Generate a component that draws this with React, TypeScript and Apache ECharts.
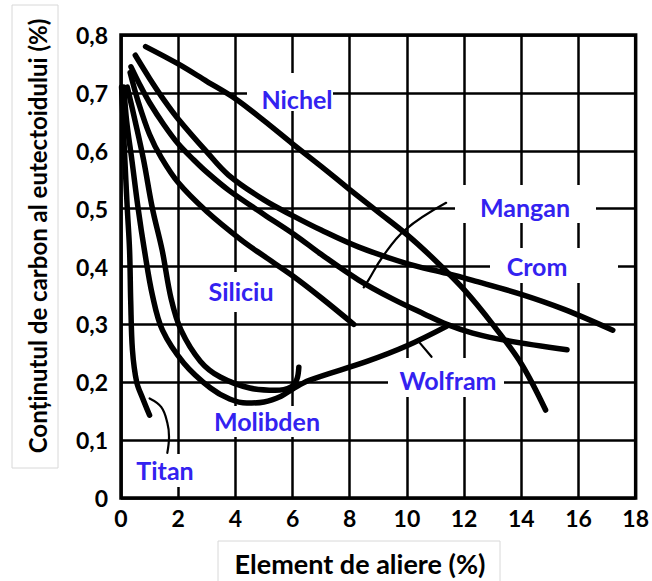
import React, { useEffect, useRef } from "react";
import * as echarts from "echarts";

const xTicks = [0, 2, 4, 6, 8, 10, 12, 14, 16, 18];
const yTicks = [0, 0.1, 0.2, 0.3, 0.4, 0.5, 0.6, 0.7, 0.8];

const nichel = [[0.86, 0.78], [2, 0.75], [3, 0.72], [4, 0.69], [5, 0.652], [6, 0.612], [7, 0.573], [8, 0.533], [9, 0.494], [10, 0.455], [11, 0.41], [12, 0.36], [13, 0.3], [14, 0.232], [14.85, 0.152]];
const crom = [[0.5, 0.765], [1, 0.725], [1.5, 0.688], [2, 0.655], [3, 0.598], [3.76, 0.558], [5, 0.515], [6, 0.488], [7, 0.463], [8.3, 0.434], [10, 0.405], [11.4, 0.388], [12.3, 0.376], [14, 0.352], [15.5, 0.326], [17.2, 0.29]];
const mangan = [[0.35, 0.745], [0.7, 0.71], [1, 0.683], [1.5, 0.645], [2, 0.612], [2.55, 0.584], [3, 0.563], [3.76, 0.532], [5, 0.49], [6.07, 0.455], [7, 0.421], [8.3, 0.377], [9.5, 0.344], [10.6, 0.318], [11.4, 0.3], [12.3, 0.285], [13.5, 0.272], [15.6, 0.256]];
const siliciu = [[0.32, 0.735], [0.6, 0.685], [1, 0.628], [1.41, 0.588], [2, 0.545], [3, 0.495], [4.2, 0.446], [5, 0.418], [6, 0.384], [7, 0.346], [8.14, 0.3]];
const wolfram = [[0.1, 0.71], [0.2, 0.65], [0.38, 0.584], [0.6, 0.5], [0.82, 0.428], [1.1, 0.35], [1.45, 0.29], [2.2, 0.233], [3.13, 0.19], [3.8, 0.171], [4.4, 0.164], [5.0, 0.166], [5.6, 0.176], [6.0, 0.188], [6.56, 0.203], [8.6, 0.236], [10, 0.263], [11.4, 0.297]];
const molibden = [[0.22, 0.71], [0.5, 0.65], [0.79, 0.584], [1.1, 0.5], [1.44, 0.428], [1.75, 0.345], [2.1, 0.29], [2.78, 0.236], [3.47, 0.209], [4.5, 0.19], [5.4, 0.186], [5.95, 0.192], [6.15, 0.205], [6.22, 0.226]];
const titan = [[0.02, 0.71], [0.12, 0.6], [0.22, 0.5], [0.3, 0.428], [0.34, 0.34], [0.4, 0.256], [0.55, 0.2], [0.76, 0.172], [1.0, 0.143]];

const leaderMangan = [[11.37, 0.51], [9.93, 0.463], [9.14, 0.416], [8.66, 0.377], [8.49, 0.364]];
const leaderWolfram = [[10.45, 0.268], [10.86, 0.244]];
const leaderTitan = [[1.0, 0.172], [1.41, 0.157], [1.62, 0.13], [1.68, 0.106], [1.62, 0.078]];

const FONT = "Lato, 'Open Sans', sans-serif";
const BLUE = "#3322f0";

function curve(name: string, data: number[][], width = 5.5, smooth = 0.35) {
  return {
    type: "line",
    name,
    data,
    smooth,
    symbol: "none",
    silent: true,
    z: 3,
    lineStyle: { color: "#000", width, cap: "round", join: "round" },
  };
}

function label(text: string, cx: number, cy: number, box: number[]) {
  return [
    {
      type: "rect",
      z: 1,
      silent: true,
      shape: { x: box[0], y: box[1], width: box[2] - box[0], height: box[3] - box[1] },
      style: { fill: "#fff" },
    },
    {
      type: "text",
      z: 10,
      silent: true,
      x: cx,
      y: cy,
      style: {
        text,
        fill: BLUE,
        font: `bold 25px ${FONT}`,
        textAlign: "center",
        textVerticalAlign: "middle",
      },
    },
  ];
}

export default function App() {
  const ref = useRef<HTMLDivElement>(null);
  useEffect(() => {
    const chart = echarts.init(ref.current!, null, { renderer: "svg" });
    chart.setOption({
      animation: false,
      backgroundColor: "#fff",
      grid: {
        left: 121,
        top: 35,
        width: 522,
        height: 463,
        show: true,
        borderColor: "#000",
        borderWidth: 3.5,
        backgroundColor: "transparent",
      },
      xAxis: {
        type: "value",
        min: 0,
        max: 18,
        interval: 2,
        axisLine: { show: false },
        axisTick: { show: false },
        splitLine: { show: true, lineStyle: { color: "#000", width: 2.5 } },
        axisLabel: {
          color: "#000",
          fontWeight: "bold",
          fontSize: 23,
          fontFamily: FONT,
          margin: 8,
          formatter: (v: number) => (xTicks.includes(v) ? String(v) : ""),
        },
      },
      yAxis: {
        type: "value",
        min: 0,
        max: 0.8,
        interval: 0.1,
        axisLine: { show: false },
        axisTick: { show: false },
        splitLine: { show: true, lineStyle: { color: "#000", width: 2.5 } },
        axisLabel: {
          color: "#000",
          fontWeight: "bold",
          fontSize: 23,
          fontFamily: FONT,
          margin: 13,
          formatter: (v: number) => {
            const t = yTicks.find((k) => Math.abs(k - v) < 1e-6);
            if (t === undefined) return "";
            return t === 0 ? "0" : t.toFixed(1).replace(".", ",");
          },
        },
      },
      series: [
        curve("Nichel", nichel),
        curve("Crom", crom),
        curve("Mangan", mangan),
        curve("Siliciu", siliciu),
        curve("Wolfram", wolfram),
        curve("Molibden", molibden),
        curve("Titan", titan),
        curve("leader Mangan", leaderMangan, 2.2, 0.4),
        curve("leader Wolfram", leaderWolfram, 2.2, 0),
        curve("leader Titan", leaderTitan, 2.2, 0.4),
      ],
      graphic: [
        {
          type: "rect",
          silent: true,
          z: 0,
          shape: { x: 12, y: 5, width: 46, height: 463 },
          style: { fill: "#fff", stroke: "#d8d8d8", lineWidth: 1 },
        },
        {
          type: "text",
          silent: true,
          z: 10,
          x: 37,
          y: 236,
          rotation: Math.PI / 2,
          style: {
            text: "Conținutul de carbon al eutectoidului (%)",
            fill: "#000",
            font: `bold 24px ${FONT}`,
            textAlign: "center",
            textVerticalAlign: "middle",
          },
        },
        {
          type: "rect",
          silent: true,
          z: 0,
          shape: { x: 218, y: 541, width: 282, height: 45 },
          style: { fill: "#fff", stroke: "#d8d8d8", lineWidth: 1 },
        },
        {
          type: "text",
          silent: true,
          z: 10,
          x: 360,
          y: 563,
          style: {
            text: "Element de aliere (%)",
            fill: "#000",
            font: `bold 27px ${FONT}`,
            textAlign: "center",
            textVerticalAlign: "middle",
          },
        },
        ...label("Nichel", 297, 99, [247, 73, 333, 111]),
        ...label("Mangan", 525, 207, [455, 185, 596, 223]),
        ...label("Crom", 537, 266, [490, 248, 618, 283]),
        ...label("Siliciu", 241, 291, [200, 272, 285, 312]),
        ...label("Wolfram", 448, 380, [388, 358, 504, 397]),
        ...label("Molibden", 267, 421, [205, 406, 330, 437]),
        ...label("Titan", 165, 470, [128, 454, 200, 487]),
      ],
    });
    return () => chart.dispose();
  }, []);
  return (
    <div
      ref={ref}
      style={{ position: "fixed", left: 0, top: 0, width: 652, height: 581 }}
    />
  );
}
